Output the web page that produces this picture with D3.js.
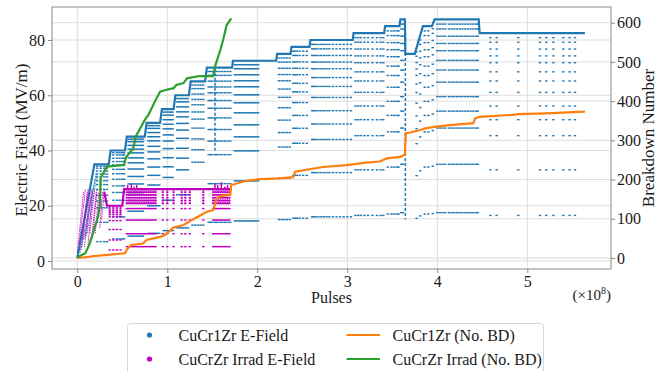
<!DOCTYPE html>
<html><head><meta charset="utf-8">
<script src="https://cdn.jsdelivr.net/npm/d3@7"></script>
<style>
body{margin:0;background:#fff}
svg{display:block}
svg text{font-family:"Times New Roman","Liberation Serif",Tinos,"DejaVu Serif",serif !important;fill:#1a1a1a}
</style>
</head><body>
<svg id="chart" width="664" height="371"></svg>
<script>
// ---------------- data (x in units of 1e8 pulses) ----------------
const xTicks = [0, 1, 2, 3, 4, 5];
const eTicks = [0, 20, 40, 60, 80];
const bdTicks = [0, 100, 200, 300, 400, 500, 600];

// CuCr1Zr E-Field: top (operating) level
const blueEnvX = [0.00,0.19,0.35,0.37,0.53,0.55,0.75,0.77,0.92,0.94,1.07,1.09,1.24,1.26,1.42,1.44,1.72,1.73,2.21,2.22,2.37,2.38,2.58,2.59,3.06,3.07,3.41,3.42,3.58,3.59,3.64,3.645,3.75,3.84,3.94,3.97,4.46,4.47,5.64];
const blueEnvE = [1,35,35,40,40,45,45,50,50,55,55,60,60,65,65,70,70,72.5,72.5,75,75,77.5,77.5,80,80,82.5,82.5,85,85,87.5,87.5,75,75,85,85,87.5,87.5,82.5,82.5];
// breakdown / recovery columns of CuCr1Zr
const blueBD = [0.22,0.26,0.30,0.33,0.40,0.44,0.47,0.50,0.52,0.57,0.59,0.61,0.63,0.65,0.67,0.69,0.71,0.73,
  0.79,0.81,0.83,0.85,0.87,0.89,0.91,0.96,0.98,1.00,1.02,1.04,1.06,1.11,1.13,1.15,1.17,1.19,1.21,1.23,
  1.28,1.31,1.34,1.37,1.40,1.46,1.48,1.50,1.53,1.55,1.58,1.61,1.64,1.67,1.70,
  1.75,1.77,1.79,1.81,1.83,1.85,1.87,1.89,1.91,1.93,1.95,1.97,1.99,2.01,
  2.24,2.27,2.30,2.33,2.36,2.40,2.42,2.44,2.47,2.51,2.55,
  2.61,2.63,2.65,2.68,2.71,2.74,2.77,2.80,2.84,2.88,2.92,2.96,3.00,3.04,
  3.09,3.12,3.15,3.19,3.23,3.28,3.33,3.37,3.40,3.45,3.49,3.52,3.55,3.57,3.60,3.62,
  3.77,3.81,3.86,3.90,3.95,4.00,4.03,4.06,4.09,4.13,4.16,4.19,4.22,4.25,4.28,4.31,4.34,4.37,4.40,4.43,4.45,
  4.59,4.66,4.90,5.14,5.21,5.29,5.40,5.47,5.53];
// recovery levels, as a fraction of the operating level
const blueLevels = [0.2,0.4,0.55,0.62,0.68,0.74,0.79,0.83,0.87,0.9,0.93,0.96,0.98];
// early ramps [x0,E0,x1,E1]
const blueRamps = [[0.00,1,0.19,35],[0.03,3,0.18,27],[0.05,5,0.20,30],[0.08,8,0.21,32],[0.11,10,0.22,31]];
// deep dips [x, lowest E]
const blueDipX = [1.53, 3.645];
const blueDipE = [40, 15];

// CuCrZr Irrad E-Field
const purpleEnvX = [0.30,0.33,0.50,0.52,1.70];
const purpleEnvE = [25,20,20,26,26];
const purpleBD = [0.36,0.40,0.44,0.48,0.55,0.57,0.59,0.61,0.63,0.65,0.67,0.69,0.71,0.73,0.75,0.77,0.79,0.81,0.83,0.85,0.87,
  0.95,1.00,1.07,1.16,1.20,1.25,1.40,1.51,1.53,1.55,1.57,1.59,1.61,1.63,1.65,1.67,1.69];
const purpleLevels = [0.2,0.38,0.57,0.73,0.8,0.84,0.88,0.92,0.96];
const purpleRamps = [[0.00,3,0.07,25],[0.02,6,0.09,26],[0.04,4,0.11,25],[0.06,8,0.12,26],[0.08,5,0.14,25],
  [0.10,9,0.16,26],[0.12,6,0.17,25],[0.14,10,0.19,26],[0.16,8,0.21,25],[0.18,12,0.22,26],[0.20,10,0.24,25],
  [0.22,14,0.26,26],[0.25,12,0.28,25],[0.27,15,0.30,26]];
const purpleSpikeX = [0.56,0.60,0.63,0.66,1.53,1.56,1.60,1.64,1.67];
const purpleSpikeE = [27.5,28,27,27.5,28,27.5,28.5,27,27.5];

// Number of breakdowns (right axis)
const orangeX = [0,0.10,0.18,0.53,0.55,0.60,0.73,0.77,0.92,0.97,1.07,1.18,1.29,1.44,1.51,1.55,1.59,1.70,1.71,1.88,2.03,2.25,2.40,2.42,2.73,2.99,3.21,3.36,3.44,3.59,3.64,3.65,3.70,3.79,3.88,3.99,4.14,4.40,4.42,4.47,4.84,4.90,5.21,5.64];
const orangeN = [0,2,5,12,22,33,37,46,54,58,78,84,99,118,122,152,158,161,186,197,201,203,206,220,232,237,243,246,254,258,263,318,320,325,331,335,339,344,356,360,365,367,369,373];
const greenX = [0,0.09,0.14,0.23,0.25,0.26,0.33,0.52,0.54,0.59,0.62,0.65,0.70,0.75,0.79,0.84,0.88,0.92,0.99,1.07,1.10,1.18,1.22,1.36,1.51,1.53,1.59,1.62,1.66,1.70,1.71];
const greenN = [2,12,38,105,131,205,233,237,256,271,278,310,331,352,365,388,407,424,429,433,441,446,458,464,464,488,531,556,594,607,611];

const legendLabels = ["CuCr1Zr E-Field","CuCrZr Irrad E-Field","CuCr1Zr (No. BD)","CuCrZr Irrad (No. BD)"];
const colors = {blue:"#1f77b4", purple:"#bf00bf", orange:"#ff7f0e", green:"#2ca02c"};

// ---------------- layout ----------------
const FONT = "'Times New Roman','Liberation Serif',Tinos,'DejaVu Serif',serif";
const L = 52, R = 611, T = 7, B = 269;
const svg = d3.select("#chart");
const x = d3.scaleLinear().domain([-0.281, 5.930]).range([L, R]);
const yE = d3.scaleLinear().domain([-2.896, 91.95]).range([B, T]);
const yN = d3.scaleLinear().domain([-28.05, 640.0]).range([B, T]);

// grids
const grid = svg.append("g").attr("stroke", "#dddddd").attr("stroke-width", 1);
xTicks.forEach(v => grid.append("line").attr("x1", x(v)).attr("x2", x(v)).attr("y1", T).attr("y2", B));
eTicks.forEach(v => grid.append("line").attr("x1", L).attr("x2", R).attr("y1", yE(v)).attr("y2", yE(v)));
bdTicks.forEach(v => grid.append("line").attr("x1", L).attr("x2", R).attr("y1", yN(v)).attr("y2", yN(v)));

const plot = svg.append("g");
svg.append("clipPath").attr("id", "clip").append("rect").attr("x", L).attr("y", T).attr("width", R - L).attr("height", B - T);
plot.attr("clip-path", "url(#clip)");

function envAt(X, E, v) {
  const i = d3.bisectRight(X, v) - 1;
  if (i < 0) return E[0];
  if (i >= X.length - 1) return E[X.length - 1];
  const t = (v - X[i]) / (X[i + 1] - X[i]);
  return E[i] + t * (E[i + 1] - E[i]);
}

// ---- blue scatter ----
const gb = plot.append("g").attr("fill", colors.blue).attr("stroke", colors.blue);
blueRamps.forEach(r => gb.append("line").attr("x1", x(r[0])).attr("y1", yE(r[1])).attr("x2", x(r[2])).attr("y2", yE(r[3]))
  .attr("stroke-width", 1).attr("stroke-dasharray", "1.5,1").attr("opacity", 0.8));
blueDipX.forEach((d, i) => gb.append("line").attr("x1", x(d)).attr("x2", x(d))
  .attr("y1", yE(envAt(blueEnvX, blueEnvE, d - 0.003))).attr("y2", yE(blueDipE[i]))
  .attr("stroke-width", 1.5).attr("stroke-dasharray", "3,2"));
const bluePts = [];
blueBD.forEach(b => { const top = envAt(blueEnvX, blueEnvE, b); blueLevels.forEach(f => bluePts.push([b, f * top])); });
gb.selectAll("rect.bp").data(bluePts).join("rect").attr("class", "bp")
  .attr("x", d => x(d[0]) - 1.2).attr("y", d => yE(d[1]) - 0.7).attr("width", 2.4).attr("height", 1.4).attr("stroke", "none");
gb.append("path").datum(blueEnvX.map((v, i) => [v, blueEnvE[i]]))
  .attr("fill", "none").attr("stroke-width", 2.2)
  .attr("d", d3.line().x(d => x(d[0])).y(d => yE(d[1])));

// ---- purple scatter ----
const gp = plot.append("g").attr("fill", colors.purple).attr("stroke", colors.purple);
purpleRamps.forEach(r => gp.append("line").attr("x1", x(r[0])).attr("y1", yE(r[1])).attr("x2", x(r[2])).attr("y2", yE(r[3]))
  .attr("stroke-width", 1).attr("stroke-dasharray", "1.5,0.8").attr("opacity", 0.85));
const purplePts = [];
purpleBD.forEach(b => { const top = envAt(purpleEnvX, purpleEnvE, b); purpleLevels.forEach(f => purplePts.push([b, f * top])); });
gp.selectAll("rect.pp").data(purplePts).join("rect").attr("class", "pp")
  .attr("x", d => x(d[0]) - 1.2).attr("y", d => yE(d[1]) - 0.7).attr("width", 2.4).attr("height", 1.4).attr("stroke", "none");
purpleBD.forEach(b => { const top = envAt(purpleEnvX, purpleEnvE, b);
  gp.append("line").attr("x1", x(b)).attr("x2", x(b)).attr("y1", yE(top)).attr("y2", yE(top * 0.8))
    .attr("stroke-width", 1.2).attr("stroke-dasharray", "1.5,1"); });
purpleSpikeX.forEach((s, i) => gp.append("line").attr("x1", x(s)).attr("x2", x(s))
  .attr("y1", yE(purpleSpikeE[i])).attr("y2", yE(envAt(purpleEnvX, purpleEnvE, s))).attr("stroke-width", 1.5));
gp.append("path").datum(purpleEnvX.map((v, i) => [v, purpleEnvE[i]]))
  .attr("fill", "none").attr("stroke-width", 2.2)
  .attr("d", d3.line().x(d => x(d[0])).y(d => yE(d[1])));

// ---- breakdown count lines (right axis) ----
const lineN = d3.line().x(d => x(d[0])).y(d => yN(d[1]));
plot.append("path").datum(orangeX.map((v, i) => [v, orangeN[i]]))
  .attr("fill", "none").attr("stroke", colors.orange).attr("stroke-width", 2.2).attr("d", lineN);
plot.append("path").datum(greenX.map((v, i) => [v, greenN[i]]))
  .attr("fill", "none").attr("stroke", colors.green).attr("stroke-width", 2.2).attr("d", lineN);

// ---------------- axes ----------------
function styleAxis(g) {
  g.attr("font-family", null);
  g.selectAll("path.domain").remove();
  g.selectAll(".tick line").attr("stroke", "#888");
  g.selectAll(".tick text").attr("font-size", 16).style("font-family", FONT).attr("fill", "#1a1a1a");
}
svg.append("g").attr("transform", `translate(0,${B})`)
  .call(d3.axisBottom(x).tickValues(xTicks).tickFormat(d3.format("d")).tickSize(4).tickPadding(3)).call(styleAxis);
svg.append("g").attr("transform", `translate(${L},0)`)
  .call(d3.axisLeft(yE).tickValues(eTicks).tickFormat(d3.format("d")).tickSize(4).tickPadding(3)).call(styleAxis);
svg.append("g").attr("transform", `translate(${R},0)`)
  .call(d3.axisRight(yN).tickValues(bdTicks).tickFormat(d3.format("d")).tickSize(4).tickPadding(2)).call(styleAxis);
svg.append("rect").attr("x", L).attr("y", T).attr("width", R - L).attr("height", B - T)
  .attr("fill", "none").attr("stroke", "#888").attr("stroke-width", 1);

// axis titles
svg.append("text").attr("transform", `translate(26.5,${(T + B) / 2 + 2}) rotate(-90)`)
  .attr("text-anchor", "middle").attr("font-size", 17).style("font-family", FONT).text("Electric Field (MV/m)");
svg.append("text").attr("transform", `translate(654,${(T + B) / 2}) rotate(-90)`)
  .attr("text-anchor", "middle").attr("font-size", 17).style("font-family", FONT).text("Breakdown Number");
svg.append("text").attr("x", (L + R) / 2).attr("y", 303).attr("text-anchor", "middle").attr("font-size", 16).style("font-family", FONT).text("Pulses");
const mult = svg.append("text").attr("x", 611).attr("y", 300).attr("text-anchor", "end").attr("font-size", 15).style("font-family", FONT);
mult.append("tspan").text("(×10");
mult.append("tspan").attr("font-size", 10).attr("dy", -6).text("8");
mult.append("tspan").attr("dy", 6).text(")");

// ---------------- legend ----------------
const lg = svg.append("g");
lg.append("rect").attr("x", 127.5).attr("y", 323.5).attr("width", 416).attr("height", 55).attr("rx", 3)
  .attr("fill", "#fff").attr("stroke", "#d6d6d6");
const rows = [335, 359];
lg.append("circle").attr("cx", 149.5).attr("cy", rows[0]).attr("r", 2.6).attr("fill", colors.blue);
lg.append("circle").attr("cx", 149.5).attr("cy", rows[1]).attr("r", 2.6).attr("fill", colors.purple);
lg.append("line").attr("x1", 346.5).attr("x2", 380).attr("y1", rows[0]).attr("y2", rows[0]).attr("stroke", colors.orange).attr("stroke-width", 2.2);
lg.append("line").attr("x1", 346.5).attr("x2", 380).attr("y1", rows[1]).attr("y2", rows[1]).attr("stroke", colors.green).attr("stroke-width", 2.2);
[[178.5, rows[0]], [178.5, rows[1]], [392.5, rows[0]], [392.5, rows[1]]].forEach((p, i) =>
  lg.append("text").attr("x", p[0]).attr("y", p[1] + 6).attr("font-size", 16).style("font-family", FONT).text(legendLabels[i]));
</script>
</body></html>
